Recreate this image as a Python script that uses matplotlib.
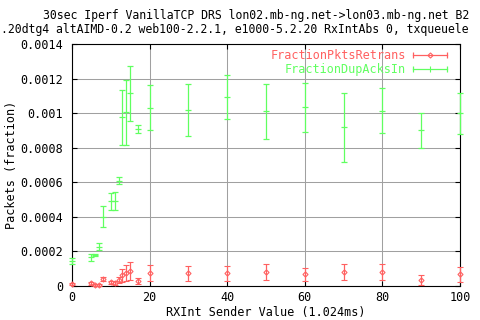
import matplotlib
matplotlib.use("Agg")
import matplotlib.pyplot as plt
from matplotlib.lines import Line2D
from matplotlib.legend_handler import HandlerBase

# ---- data ----
rx_int = [0, 5, 6, 7, 8, 10, 11, 12, 13, 14, 15, 17, 20, 30, 40, 50, 60, 70, 80, 90, 100]
retrans = [0.000013, 0.000015, 0.000008, 0.000008, 0.000040, 0.000021, 0.000017,
           0.000033, 0.000062, 0.000075, 0.000087, 0.000029, 0.000075, 0.000073,
           0.000073, 0.000081, 0.000068, 0.000081, 0.000081, 0.000033, 0.000068]
retrans_err = [0.000005, 0.000010, 0.000006, 0.000006, 0.000010, 0.000010, 0.000010,
               0.000018, 0.000037, 0.000045, 0.000053, 0.000020, 0.000047, 0.000043,
               0.000044, 0.000049, 0.000038, 0.000046, 0.000046, 0.000029, 0.000043]
dupacks = [0.000146, 0.000166, 0.000179, 0.000227, 0.000400, 0.000490, 0.000490,
           0.000610, 0.000975, 0.001004, 0.001114, 0.000907, 0.001030, 0.001020,
           0.001096, 0.001010, 0.001033, 0.000917, 0.001015, 0.000900, 0.000998]
dupacks_err = [0.000017, 0.000022, 0.000006, 0.000020, 0.000060, 0.000050, 0.000052,
               0.000020, 0.000160, 0.000190, 0.000160, 0.000024, 0.000130, 0.000150,
               0.000127, 0.000160, 0.000140, 0.000200, 0.000130, 0.000100, 0.000120]
series_labels = ["FractionPktsRetrans", "FractionDupAcksIn"]
xticks = [0, 20, 40, 60, 80, 100]
yticks = [0, 0.0002, 0.0004, 0.0006, 0.0008, 0.001, 0.0012, 0.0014]
title_line1 = "30sec Iperf VanillaTCP DRS lon02.mb-ng.net->lon03.mb-ng.net B2"
title_line2 = ".20dtg4 altAIMD-0.2 web100-2.2.1, e1000-5.2.20 RxIntAbs 0, txqueuele"
xlabel = "RXInt Sender Value (1.024ms)"
ylabel = "Packets (fraction)"

RED = "#ff6060"
GREEN = "#60ff60"
FONT = "DejaVu Sans Mono"
FS = 8.45
TFS = 8.3

plt.rcParams["font.family"] = FONT
plt.rcParams["font.size"] = FS

fig = plt.figure(figsize=(4.8, 3.2), dpi=100)
ax = fig.add_axes([72 / 480, 34 / 320, 388 / 480, 242 / 320])

eb1 = ax.errorbar(rx_int, retrans, yerr=retrans_err, fmt="D", color=RED,
                  markersize=2.6, markerfacecolor="none", markeredgewidth=0.8,
                  elinewidth=0.9, capsize=2.2, capthick=0.9, clip_on=False, zorder=3)
eb2 = ax.errorbar(rx_int, dupacks, yerr=dupacks_err, fmt="_", color=GREEN,
                  markersize=4.4, markeredgewidth=0.9,
                  elinewidth=0.9, capsize=2.2, capthick=0.9, clip_on=False, zorder=3)
for eb in (eb1, eb2):
    for a in eb.lines[1]:
        a.set_clip_on(False)
    for a in eb.lines[2]:
        a.set_clip_on(False)

ax.set_xlim(0, 100)
ax.set_ylim(0, 0.0014)
ax.set_xticks(xticks)
ax.set_xticklabels([str(t) for t in xticks])
ax.set_yticks(yticks)
ax.set_yticklabels(["%g" % t for t in yticks])
ax.grid(True, color="#a0a0a0", linewidth=0.75)
ax.set_axisbelow(True)
for s in ax.spines.values():
    s.set_linewidth(0.8)
    s.set_color("black")
ax.tick_params(direction="in", length=3.6, width=0.8, top=True, right=True,
               labelsize=FS, colors="black")
ax.tick_params(axis="x", pad=3.5)
ax.tick_params(axis="y", pad=6.5)

ax.set_xlabel(xlabel, fontsize=FS, labelpad=1.2)
ax.set_ylabel(ylabel, fontsize=FS, labelpad=1.5)

fig.text(43 / 480, 1 - 16 / 320, title_line1, ha="left", va="center", fontsize=TFS)
fig.text(1 / 480, 1 - 29.5 / 320, title_line2, ha="left", va="center", fontsize=TFS)


class HandlerCapLine(HandlerBase):
    def create_artists(self, legend, orig_handle, xdescent, ydescent, width, height,
                       fontsize, trans):
        c = orig_handle.get_color()
        y = height / 2 - ydescent
        x0 = -xdescent
        x1 = x0 + width
        line = Line2D([x0, x1], [y, y], color=c, lw=0.9)
        caps = Line2D([x0, x1], [y, y], linestyle="none", marker="|", markersize=4.4,
                      markeredgewidth=0.9, color=c)
        mid = Line2D([(x0 + x1) / 2], [y], linestyle="none",
                     marker=orig_handle.get_marker(),
                     markersize=orig_handle.get_markersize(),
                     markerfacecolor="none", markeredgewidth=0.8, color=c)
        arts = [line, caps, mid]
        for a in arts:
            a.set_transform(trans)
        return arts


h1 = Line2D([], [], color=RED, marker="D", markersize=2.6)
h2 = Line2D([], [], color=GREEN, marker="|", markersize=4.4)
leg = ax.legend([h1, h2], series_labels, loc="upper right",
                bbox_to_anchor=(1 - 8 / 388, 1),
                frameon=False, markerfirst=False, handlelength=2.9, handletextpad=0.6,
                labelspacing=0.1, borderaxespad=0.0, borderpad=0.4, fontsize=FS,
                handler_map={Line2D: HandlerCapLine()})
for t, c in zip(leg.get_texts(), [RED, GREEN]):
    t.set_color(c)

fig.savefig("out.png", dpi=100)
